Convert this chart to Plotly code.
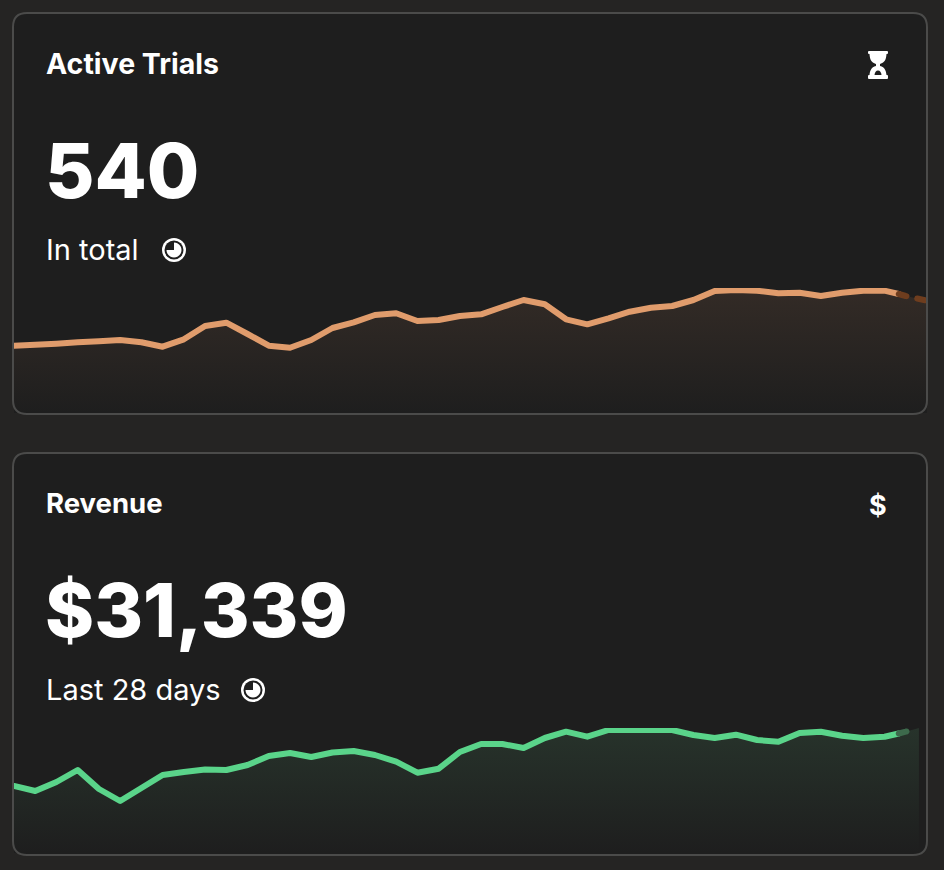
import math
import plotly.graph_objects as go

# ---- data (sparkline heights) ----
trials_days = list(range(44))
trials_values = [67.3, 68.3, 69.3, 70.7, 71.7, 73, 70.7, 66.3, 73.7, 87, 90.3, 79, 67.3, 65.3, 73, 85,
                 90.7, 98, 99.7, 92, 93, 97, 98.7, 106, 113, 108.7, 93.7, 88.7, 94.7, 101.3, 105.3, 107,
                 113, 122, 123, 122.3, 119.7, 120.3, 117, 120.3, 122.3, 122.3, 117, 112.3]
trials_solid_days = trials_days[:42] + [41.67]
trials_solid_values = trials_values[:42] + [119]
trials_proj_days = [41.67, 42, 43]
trials_proj_values = [119, 117, 112.3]

revenue_days = list(range(43)) + [42.62]
revenue_values = [67, 62, 71, 83, 64, 52, 65, 78, 81, 83.5, 83, 88, 97, 100, 96, 100.5, 102, 98, 91.3, 80.3,
                  84.3, 101, 109, 109, 105, 115, 121.3, 116.3, 123, 123, 123, 123, 118, 115, 118.3, 113,
                  111.3, 120, 121.3, 117.3, 115, 116.3, 121.3, 125]
revenue_solid_days = list(range(42)) + [41.67]
revenue_solid_values = revenue_values[:42] + [119.5]
revenue_proj_days = [41.67, 42, 42.62]
revenue_proj_values = [119.5, 121.3, 125]

cards = [
    dict(top=13, bottom=414, plot_top=288, plot_bottom=413, x_end=43, title="Active Trials", big="540", sub="In total",
         title_size=28.5, big_size=76, sub_size=29,
         clock_x=174, line="#e09c6c", dark="#6e3d1e", top_fill="#332b26",
         days=trials_days, vals=trials_values, sd=trials_solid_days, sv=trials_solid_values,
         pd=trials_proj_days, pv=trials_proj_values, dash="8px,11px"),
    dict(top=453, bottom=855, plot_top=728, plot_bottom=853, x_end=43, title="Revenue", big="$31,339", sub="Last 28 days",
         title_size=27.5, big_size=74.5, sub_size=29,
         clock_x=253, line="#5ad48a", dark="#3d6a4c", top_fill="#27332b",
         days=revenue_days, vals=revenue_values, sd=revenue_solid_days, sv=revenue_solid_values,
         pd=revenue_proj_days, pv=revenue_proj_values, dash="8px,40px"),
]

W, H = 944, 870
PAGE = "#252423"
CARD = "#1e1e1e"
BORDER = "#4b4b4a"
WHITE = "#ffffff"
FONT = "Inter"

fig = go.Figure()
layout = dict(
    width=W, height=H, margin=dict(l=0, r=0, t=0, b=0), autosize=False,
    paper_bgcolor=PAGE, plot_bgcolor="rgba(0,0,0,0)", showlegend=False, hovermode=False,
    xaxis=dict(domain=[0, 1], range=[0, W], visible=False, fixedrange=True),
    yaxis=dict(domain=[0, 1], range=[H, 0], visible=False, fixedrange=True),
)
shapes, annotations = [], []


def rounded(x0, y0, x1, y1, r):
    return (f"M{x0+r},{y0} H{x1-r} Q{x1},{y0} {x1},{y0+r} V{y1-r} Q{x1},{y1} {x1-r},{y1} "
            f"H{x0+r} Q{x0},{y1} {x0},{y1-r} V{y0+r} Q{x0},{y0} {x0+r},{y0} Z")


def px_shape(**kw):
    kw.setdefault("xref", "x")
    kw.setdefault("yref", "y")
    shapes.append(kw)


def text(x, y, s, size, weight, anchor="left"):
    annotations.append(dict(x=x, y=y, xref="x", yref="y", text=s, showarrow=False, xanchor=anchor,
                            yanchor="middle", align="left",
                            font=dict(family=FONT, size=size, color=WHITE, weight=weight)))


def clock(cx, cy):
    px_shape(type="circle", x0=cx-12, x1=cx+12, y0=cy-12, y1=cy+12, fillcolor=WHITE, line_width=0, layer="above")
    px_shape(type="circle", x0=cx-9.5, x1=cx+9.5, y0=cy-9.5, y1=cy+9.5, fillcolor=CARD, line_width=0, layer="above")
    pts = [f"{cx + 7.5*math.sin(math.radians(a)):.2f},{cy - 7.5*math.cos(math.radians(a)):.2f}" for a in range(0, 271, 15)]
    path = f"M{cx},{cy} L" + " L".join(pts) + " Z"
    px_shape(type="path", path=path, fillcolor=WHITE, line_width=0, layer="above")


for i, c in enumerate(cards):
    xname, yname = f"xaxis{i+2}", f"yaxis{i+2}"
    layout[xname] = dict(domain=[14 / W, 927 / W], range=[0, c["x_end"]], visible=False, fixedrange=True, anchor=f"y{i+2}")
    layout[yname] = dict(domain=[1 - c["plot_bottom"] / H, 1 - c["plot_top"] / H], range=[0, 125], visible=False,
                         fixedrange=True, anchor=f"x{i+2}")
    ax = dict(xaxis=f"x{i+2}", yaxis=f"y{i+2}", mode="lines", hoverinfo="skip")
    fig.add_trace(go.Scatter(x=c["days"], y=c["vals"], fill="tozeroy", line=dict(width=0, color="rgba(0,0,0,0)"),
                             fillgradient=dict(type="vertical", colorscale=[[0, CARD], [1, c["top_fill"]]]), **ax))
    fig.add_trace(go.Scatter(x=c["sd"], y=c["sv"], line=dict(color=c["line"], width=6, simplify=False), **ax))
    fig.add_trace(go.Scatter(x=c["pd"], y=c["pv"], line=dict(color=c["dark"], width=6, dash=c["dash"], simplify=False), **ax))

    px_shape(type="path", path=rounded(13, c["top"], 927, c["bottom"], 14), fillcolor=CARD, line_width=0, layer="below")
    px_shape(type="path", path=rounded(13, c["top"], 927, c["bottom"], 14), fillcolor="rgba(0,0,0,0)",
             line=dict(color=BORDER, width=2), layer="above")
    t = c["top"]
    text(44, t + 50, c["title"], c["title_size"], 700)
    text(43, t + 157, c["big"], c["big_size"], 800)
    text(44, t + 236, c["sub"], c["sub_size"], 400)
    clock(c["clock_x"], t + 237)

# hourglass icon
px_shape(type="path", fillcolor=WHITE, line_width=0, layer="above",
         path="M868,52 Q868,51 869,51 H887 Q888,51 888,52 V53 Q888,54 887,54 H886.5 C886,60 885,62 880,64 V66 "
              "C885,67 886,71 886.5,75 H887 Q888,75 888,76 V78 Q888,79 887,79 H869 Q868,79 868,78 V76 Q868,75 869,75 H869.5 "
              "C870,71 871,67 876,66 V64 C871,62 870,60 869.5,54 H869 Q868,54 868,53 Z")
px_shape(type="path", fillcolor=CARD, line_width=0, layer="above", path="M874.5,75 Q875,70.5 878,70.5 Q881,70.5 881.5,75 Z")
# dollar icon
text(878, 505, "$", 27, 700, "center")

layout["shapes"] = shapes
layout["annotations"] = annotations
fig.update_layout(**layout)

post = """
document.body.style.margin='0';
document.body.style.background='%s';
document.querySelectorAll('.scatterlayer .trace path.js-line').forEach(p=>{p.style.strokeLinecap='round';p.style.strokeLinejoin='round';});
""" % PAGE
fig.write_html("out.html", config=dict(displayModeBar=False, responsive=False), post_script=post)
